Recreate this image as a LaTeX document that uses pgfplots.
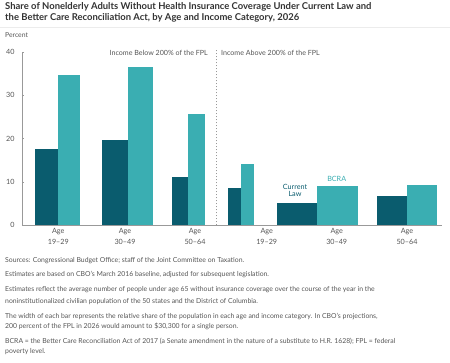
\documentclass[border=0pt]{standalone}
\usepackage{pgfplots}
\pgfplotsset{compat=1.18}
\usepackage{fontspec}
\setmainfont{Lato}
\definecolor{dark}{HTML}{0A5C6E}
\definecolor{teal}{HTML}{3AAEB2}
\definecolor{titlec}{HTML}{333333}
\definecolor{notec}{HTML}{555555}
\definecolor{axc}{HTML}{999999}
\begin{document}
\begin{tikzpicture}[x=1pt,y=1pt]
\path[use as bounding box] (0,0) rectangle (450,363);
% title
\node[anchor=west,font=\fontsize{9.45}{10}\selectfont\bfseries,text=titlec,inner sep=0] at (5,363-6.7) {Share of Nonelderly Adults Without Health Insurance Coverage Under Current Law and};
\node[anchor=west,font=\fontsize{9.45}{10}\selectfont\bfseries,text=titlec,inner sep=0] at (5,363-18.3) {the Better Care Reconciliation Act, by Age and Income Category, 2026};
\draw[gray!15,line width=0.6pt] (0,363-27) -- (450,363-27);
\node[anchor=west,font=\fontsize{6.8}{7}\selectfont,text=notec,inner sep=0] at (5,363-35) {Percent};
\begin{axis}[
  at={(22pt,137.7pt)}, anchor=south west,
  scale only axis, width=419.7pt, height=173.3pt,
  xmin=22, xmax=441.7, ymin=0, ymax=40,
  clip=false,
  axis x line=bottom, axis y line=left,
  axis line style={axc,-, line width=0.5pt},
  ytick={0,10,20,30,40},
  tick style={axc, line width=0.5pt},
  major tick length=2pt, tick align=inside,
  yticklabel style={font=\fontsize{7.2}{8}\selectfont, text=notec, xshift=-4pt},
  xtick={58.3,125,195,266.7,336.7,407},
  xticklabels={{Age\\19–29},{Age\\30–49},{Age\\50–64},{Age\\19–29},{Age\\30–49},{Age\\50–64}},
  xticklabel style={font=\fontsize{7.2}{10.7}\selectfont, text=notec, align=center},
  x tick style={draw=none},
  /pgf/number format/assume math mode=true,
]
% Income below 200% FPL
\addplot[fill=dark, draw=none] coordinates {(35,0) (35,17.5) (57.7,17.5) (57.7,0)} -- cycle;
\addplot[fill=teal, draw=none] coordinates {(57.7,0) (57.7,34.8) (80,34.8) (80,0)} -- cycle;
\addplot[fill=dark, draw=none] coordinates {(101.7,0) (101.7,19.7) (127.7,19.7) (127.7,0)} -- cycle;
\addplot[fill=teal, draw=none] coordinates {(127.7,0) (127.7,36.6) (153,36.6) (153,0)} -- cycle;
\addplot[fill=dark, draw=none] coordinates {(171.7,0) (171.7,11.1) (188.3,11.1) (188.3,0)} -- cycle;
\addplot[fill=teal, draw=none] coordinates {(188.3,0) (188.3,25.6) (205,25.6) (205,0)} -- cycle;
% Income above 200% FPL
\addplot[fill=dark, draw=none] coordinates {(227.7,0) (227.7,8.7) (241,8.7) (241,0)} -- cycle;
\addplot[fill=teal, draw=none] coordinates {(241,0) (241,14.2) (254.3,14.2) (254.3,0)} -- cycle;
\addplot[fill=dark, draw=none] coordinates {(276.7,0) (276.7,5.2) (317.3,5.2) (317.3,0)} -- cycle;
\addplot[fill=teal, draw=none] coordinates {(317.3,0) (317.3,9.1) (357.7,9.1) (357.7,0)} -- cycle;
\addplot[fill=dark, draw=none] coordinates {(376.7,0) (376.7,6.8) (406.7,6.8) (406.7,0)} -- cycle;
\addplot[fill=teal, draw=none] coordinates {(406.7,0) (406.7,9.4) (436.7,9.4) (436.7,0)} -- cycle;
\draw[axc, line width=0.4pt, dash pattern=on 1.5pt off 1.5pt] (axis cs:215.7,0) -- (axis cs:215.7,40.6);
\node[anchor=east, font=\fontsize{7.1}{7}\selectfont, text=notec, inner sep=0] at (axis cs:208,39.7) {Income Below 200\% of the FPL};
\node[anchor=west, font=\fontsize{7.1}{7}\selectfont, text=notec, inner sep=0] at (axis cs:221,39.7) {Income Above 200\% of the FPL};
\node[font=\fontsize{7.2}{7.5}\selectfont, text=dark, align=center, inner sep=0] at (axis cs:295,8.05) {Current\\Law};
\node[font=\fontsize{7.2}{7.5}\selectfont, text=teal, inner sep=0] at (axis cs:336.7,10.6) {BCRA};
\end{axis}
% notes
\tikzset{note/.style={anchor=west,font=\fontsize{6.85}{7}\selectfont,text=notec,inner sep=0}}
\node[note] at (5,363-260.3) {Sources: Congressional Budget Office; staff of the Joint Committee on Taxation.};
\node[note] at (5,363-275) {Estimates are based on CBO’s March 2016 baseline, adjusted for subsequent legislation.};
\node[note] at (5,363-290) {Estimates reflect the average number of people under age 65 without insurance coverage over the course of the year in the};
\node[note] at (5,363-301.7) {noninstitutionalized civilian population of the 50 states and the District of Columbia.};
\node[note] at (5,363-316.7) {The width of each bar represents the relative share of the population in each age and income category. In CBO’s projections,};
\node[note] at (5,363-326.7) {200 percent of the FPL in 2026 would amount to \$30,300 for a single person.};
\node[note] at (5,363-341) {BCRA = the Better Care Reconciliation Act of 2017 (a Senate amendment in the nature of a substitute to H.R. 1628); FPL = federal};
\node[note] at (5,363-351.7) {poverty level.};
\end{tikzpicture}
\end{document}
